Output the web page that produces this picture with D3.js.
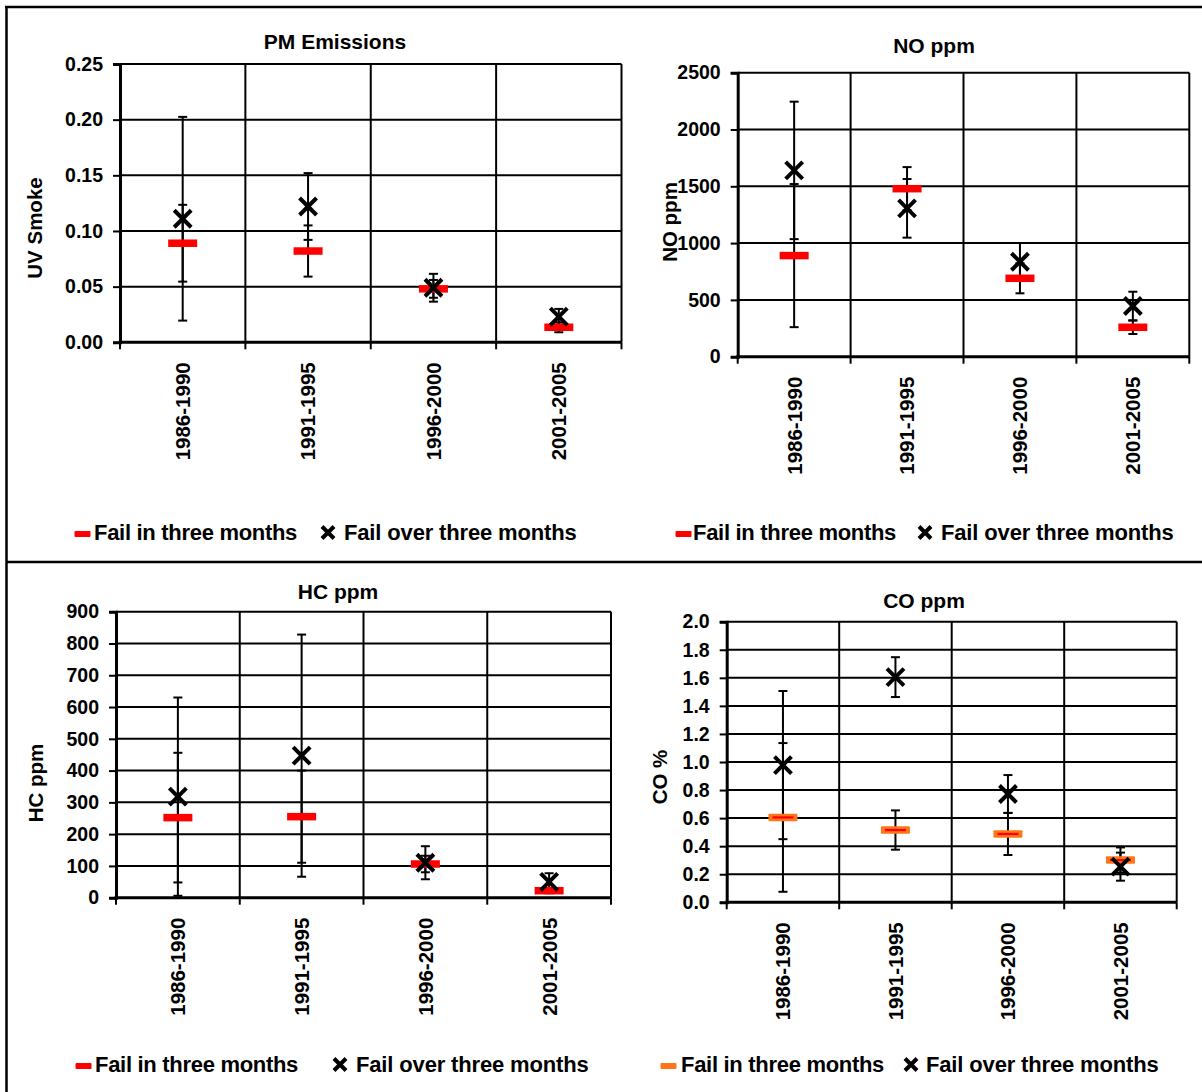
<!DOCTYPE html>
<html>
<head>
<meta charset="utf-8">
<script src="https://cdn.jsdelivr.net/npm/d3@7"></script>
<style>
  html, body { margin: 0; padding: 0; background: #fff; }
  svg { display: block; font-family: "Liberation Sans", Arial, sans-serif; font-weight: bold; }
</style>
</head>
<body>
<svg id="fig" width="1202" height="1092"></svg>
<script>
// ---- data ----
const categories = ["1986-1990", "1991-1995", "1996-2000", "2001-2005"];
const seriesNames = ["Fail in three months", "Fail over three months"];

// PM emissions (UV smoke)
const pmInMean   = [0.089, 0.082, 0.048, 0.0135];
const pmInErr    = [0.0345, 0.023, 0.008, 0.0045];
const pmOverMean = [0.111, 0.122, 0.049, 0.023];
const pmOverErr  = [0.0915, 0.030, 0.0125, 0.007];
const pmTicks    = [0, 0.05, 0.10, 0.15, 0.20, 0.25];

// NO ppm
const noInMean   = [890, 1479, 690, 259];
const noInErr    = [630, 190, 132, 59];
const noOverMean = [1640, 1306, 836, 446];
const noOverErr  = [605, 258, 165, 126];
const noTicks    = [0, 500, 1000, 1500, 2000, 2500];

// HC ppm
const hcInMean   = [252, 255, 106, 22];
const hcInErr    = [204, 145, 26, 8];
const hcOverMean = [318, 447, 110, 50];
const hcOverErr  = [312, 381, 52, 27];
const hcTicks    = [0, 100, 200, 300, 400, 500, 600, 700, 800, 900];

// CO %
const coInMean   = [0.605, 0.515, 0.487, 0.301];
const coInErr    = [0.53, 0.14, 0.15, 0.09];
const coOverMean = [0.978, 1.605, 0.772, 0.254];
const coOverErr  = [0.528, 0.142, 0.135, 0.10];
const coTicks    = [0, 0.2, 0.4, 0.6, 0.8, 1.0, 1.2, 1.4, 1.6, 1.8, 2.0];

// ---- panel layout ----
const panels = [
  { title: "PM Emissions", yTitle: "UV Smoke", inMean: pmInMean, inErr: pmInErr, overMean: pmOverMean, overErr: pmOverErr,
    ticks: pmTicks, fmt: ".2f", inStyle: "red",
    x0: 120, x1: 621.5, y0: 64, y1: 342.3, titleX: 335, titleY: 49, yTitleX: 35, yTitleY: 228,
    leg: { y: 540, dash: 75, t1: 94, xm: 328, t2: 343 } },
  { title: "NO ppm", yTitle: "NO ppm", inMean: noInMean, inErr: noInErr, overMean: noOverMean, overErr: noOverErr,
    ticks: noTicks, fmt: "d", inStyle: "red",
    x0: 737.7, x1: 1189.3, y0: 72.7, y1: 356.7, titleX: 934, titleY: 53, yTitleX: 670, yTitleY: 222,
    leg: { y: 540, dash: 676, t1: 693, xm: 925, t2: 940 } },
  { title: "HC ppm", yTitle: "HC ppm", inMean: hcInMean, inErr: hcInErr, overMean: hcOverMean, overErr: hcOverErr,
    ticks: hcTicks, fmt: "d", inStyle: "red",
    x0: 116, x1: 611, y0: 611.7, y1: 897.7, titleX: 338, titleY: 599, yTitleX: 36, yTitleY: 783,
    leg: { y: 1072, dash: 76, t1: 95, xm: 340, t2: 355 } },
  { title: "CO ppm", yTitle: "CO %", inMean: coInMean, inErr: coInErr, overMean: coOverMean, overErr: coOverErr,
    ticks: coTicks, fmt: ".1f", inStyle: "orange",
    x0: 726.7, x1: 1176.7, y0: 621.7, y1: 902.3, titleX: 924, titleY: 608, yTitleX: 660, yTitleY: 777,
    leg: { y: 1072, dash: 661, t1: 681, xm: 911, t2: 925 } }
];

const RED = "#ff0000";
const ORANGE = "#ff7518";
const svg = d3.select("#fig");

// outer frame of the figure
svg.append("path")
  .attr("d", "M5,7H1202 M6.5,7V1092 M6,562H1202")
  .attr("fill", "none").attr("stroke", "#000").attr("stroke-width", 2.5);

function crossPath(h) {
  return `M${-h},${-h}L${h},${h}M${-h},${h}L${h},${-h}`;
}

function inMarker(g, style, w, h) {
  if (style === "orange") {
    g.append("rect").attr("x", -w / 2).attr("y", -h / 2).attr("width", w).attr("height", h)
      .attr("fill", ORANGE).attr("rx", 1);
    g.append("line").attr("x1", -w / 2 + 4).attr("x2", w / 2 - 4).attr("stroke", RED).attr("stroke-width", 2.2);
  } else {
    g.append("rect").attr("x", -w / 2).attr("y", -h / 2).attr("width", w).attr("height", h).attr("fill", RED);
  }
}

function drawPanel(p) {
  const g = svg.append("g");
  const x = d3.scaleBand().domain(categories).range([p.x0, p.x1]);
  const y = d3.scaleLinear().domain([0, d3.max(p.ticks)]).range([p.y1, p.y0]);
  const bw = x.bandwidth();
  const cx = c => x(c) + bw / 2;

  // horizontal gridlines
  g.append("g").selectAll("line").data(p.ticks.slice(1)).join("line")
    .attr("x1", p.x0).attr("x2", p.x1).attr("y1", d => y(d)).attr("y2", d => y(d))
    .attr("stroke", "#000").attr("stroke-width", 2);

  // vertical gridlines at category boundaries
  g.append("g").selectAll("line").data(categories).join("line")
    .attr("x1", d => x(d) + bw).attr("x2", d => x(d) + bw)
    .attr("y1", p.y0).attr("y2", p.y1)
    .attr("stroke", "#000").attr("stroke-width", 2);

  // y axis
  const ya = g.append("g").attr("transform", `translate(${p.x0},0)`)
    .call(d3.axisLeft(y).tickValues(p.ticks).tickFormat(d3.format(p.fmt)).tickSize(7).tickPadding(10));
  ya.select(".domain").attr("stroke", "#000").attr("stroke-width", 3);
  ya.selectAll(".tick line").attr("stroke", "#000").attr("stroke-width", 2);
  ya.selectAll(".tick text").attr("fill", "#000").style("font-size", "19.5px")
    .style("font-family", "'Liberation Sans', Arial, sans-serif").style("font-weight", "bold");

  // x axis: category labels, rotated
  const xa = g.append("g").attr("transform", `translate(0,${p.y1})`)
    .call(d3.axisBottom(x).tickSize(0));
  xa.select(".domain").remove();
  xa.selectAll(".tick text")
    .attr("transform", "rotate(-90)").attr("x", -20).attr("y", 0).attr("dy", "0.36em")
    .attr("text-anchor", "end").attr("fill", "#000").style("font-size", "20.5px")
    .style("font-family", "'Liberation Sans', Arial, sans-serif").style("font-weight", "bold");

  // x axis line with tick marks on the category boundaries
  const edges = [p.x0].concat(categories.map(c => x(c) + bw));
  g.append("line").attr("x1", p.x0 - 1.5).attr("x2", p.x1).attr("y1", p.y1).attr("y2", p.y1)
    .attr("stroke", "#000").attr("stroke-width", 3);
  g.append("g").selectAll("line").data(edges).join("line")
    .attr("x1", d => d).attr("x2", d => d).attr("y1", p.y1).attr("y2", p.y1 + 7)
    .attr("stroke", "#000").attr("stroke-width", 2);

  // error bars for both series
  const bars = [];
  categories.forEach((c, i) => {
    bars.push({ c, lo: p.inMean[i] - p.inErr[i], hi: p.inMean[i] + p.inErr[i] });
    bars.push({ c, lo: p.overMean[i] - p.overErr[i], hi: p.overMean[i] + p.overErr[i] });
  });
  const eb = g.append("g").attr("stroke", "#000").attr("stroke-width", 2);
  eb.selectAll("line.v").data(bars).join("line").attr("class", "v")
    .attr("x1", d => cx(d.c)).attr("x2", d => cx(d.c))
    .attr("y1", d => y(Math.max(0, d.lo))).attr("y2", d => y(d.hi));
  const caps = bars.flatMap(d => [{ c: d.c, v: Math.max(0, d.lo) }, { c: d.c, v: d.hi }]);
  eb.selectAll("line.cap").data(caps).join("line").attr("class", "cap")
    .attr("x1", d => cx(d.c) - 4.5).attr("x2", d => cx(d.c) + 4.5)
    .attr("y1", d => y(d.v)).attr("y2", d => y(d.v));

  // "fail in three months" dashes
  categories.forEach((c, i) => {
    const m = g.append("g").attr("transform", `translate(${cx(c)},${y(p.inMean[i])})`);
    inMarker(m, p.inStyle, 29, 7.5);
  });

  // "fail over three months" crosses
  g.append("g").selectAll("path").data(categories).join("path")
    .attr("transform", (c, i) => `translate(${cx(c)},${y(p.overMean[i])})`)
    .attr("d", crossPath(8.5)).attr("fill", "none").attr("stroke", "#000").attr("stroke-width", 4);

  // titles
  g.append("text").attr("x", p.titleX).attr("y", p.titleY).attr("text-anchor", "middle")
    .style("font-size", "21px").text(p.title);
  g.append("text").attr("transform", `translate(${p.yTitleX},${p.yTitleY}) rotate(-90)`)
    .attr("text-anchor", "middle").attr("dy", "0.36em").style("font-size", "20.5px").text(p.yTitle);

  // legend
  const L = p.leg;
  const lg = g.append("g");
  const dash = lg.append("g").attr("transform", `translate(${L.dash + 7.5},${L.y - 6})`);
  dash.append("rect").attr("x", -8).attr("y", -3).attr("width", 16).attr("height", 6)
    .attr("fill", p.inStyle === "orange" ? ORANGE : RED).attr("rx", 1);
  lg.append("text").attr("x", L.t1).attr("y", L.y).style("font-size", "22px")
    .style("letter-spacing", "-0.3px").text(seriesNames[0]);
  lg.append("path").attr("transform", `translate(${L.xm},${L.y - 7.5})`)
    .attr("d", crossPath(6)).attr("fill", "none").attr("stroke", "#000").attr("stroke-width", 4);
  lg.append("text").attr("x", L.t2 + 1).attr("y", L.y).style("font-size", "22px")
    .style("letter-spacing", "-0.15px").text(seriesNames[1]);
}

panels.forEach(drawPanel);
</script>
</body>
</html>
